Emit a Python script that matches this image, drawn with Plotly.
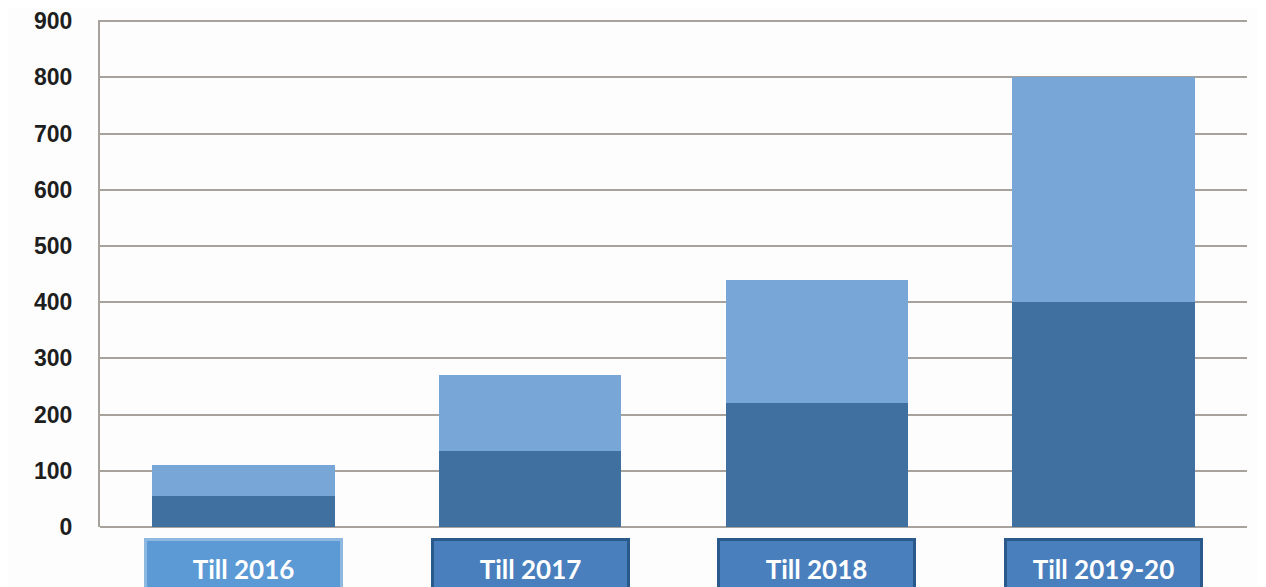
import plotly.graph_objects as go

categories = ['Till 2016', 'Till 2017', 'Till 2018', 'Till 2019-20']
lower_part = [55, 135, 220, 400]
upper_part = [55, 135, 220, 400]
y_ticks = [0, 100, 200, 300, 400, 500, 600, 700, 800, 900]

DARK = 'rgb(64,112,160)'
LIGHT = 'rgb(120,167,215)'
GRID = 'rgb(168,162,156)'

fig = go.Figure()
fig.add_trace(go.Bar(x=categories, y=lower_part, marker_color=DARK,
                     marker_line_width=0, showlegend=False))
fig.add_trace(go.Bar(x=categories, y=upper_part, marker_color=LIGHT,
                     marker_line_width=0, showlegend=False))

# label boxes under each bar
for i, cat in enumerate(categories):
    first = i == 0
    fig.add_annotation(
        x=cat, y=0, xref='x', yref='y',
        yanchor='top', yshift=-11,
        text=cat, showarrow=False,
        width=187, height=50,
        bgcolor='rgb(91,154,213)' if first else 'rgb(74,127,190)',
        bordercolor='rgb(141,184,224)' if first else 'rgb(42,90,140)',
        borderwidth=3, borderpad=3,
        font=dict(family='Lato', size=26, color='white', weight='bold'),
    )

# page body adds an 8px offset, so the figure is sized a bit smaller
fig.update_layout(
    barmode='stack',
    bargap=0.364,
    width=1258, height=579,
    paper_bgcolor='rgb(253,253,253)',
    plot_bgcolor='rgb(253,253,253)',
    margin=dict(l=92, r=19, t=12, b=60),
)
fig.update_xaxes(showticklabels=False, showgrid=False, zeroline=False,
                 showline=False, ticks='', automargin=False)
fig.update_yaxes(range=[0, 902], tickvals=y_ticks, showgrid=True,
                 gridcolor=GRID, gridwidth=2, zeroline=True,
                 zerolinecolor=GRID, zerolinewidth=2,
                 showline=True, linecolor=GRID, linewidth=2,
                 ticks='', ticklabelstandoff=21, automargin=False,
                 ticklabeloverflow='allow',
                 tickfont=dict(family='Liberation Sans', size=23,
                               color='rgb(30,30,30)', weight='bold'))

fig.write_html("out.html")
